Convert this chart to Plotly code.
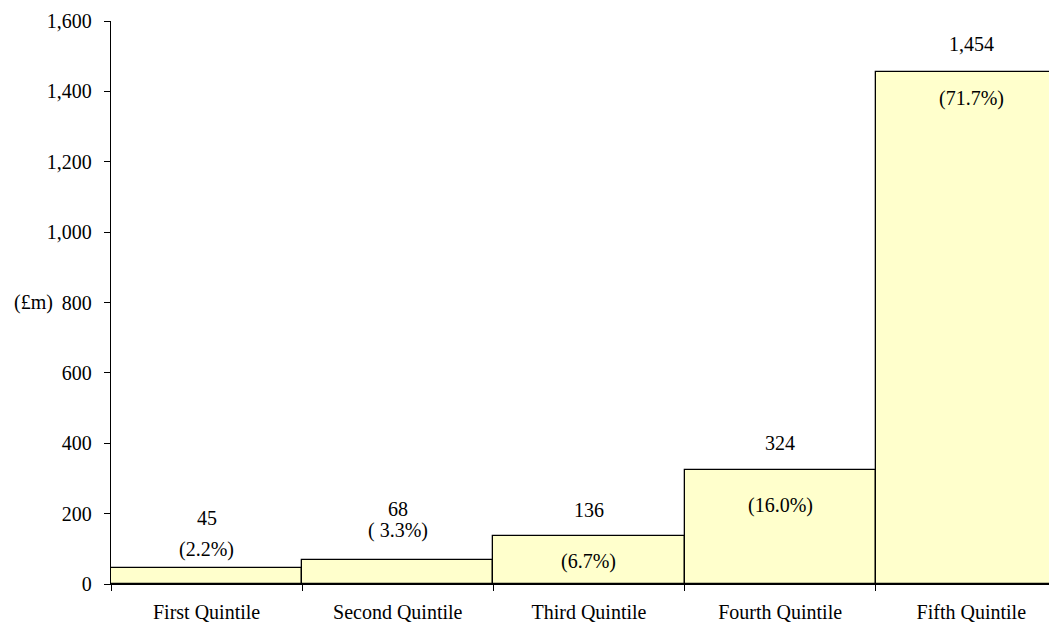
import plotly.graph_objects as go

categories = ["First Quintile", "Second Quintile", "Third Quintile", "Fourth Quintile", "Fifth Quintile"]
values = [45, 68, 136, 324, 1454]
value_labels = ["45", "68", "136", "324", "1,454"]
pct_labels = ["(2.2%)", "( 3.3%)", "(6.7%)", "(16.0%)", "(71.7%)"]
value_label_y = [189, 214, 209, 400, 1534]
pct_label_y = [97, 151, 63, 223, 1380]
y_ticks = [0, 200, 400, 600, 800, 1000, 1200, 1400, 1600]
y_tick_text = ["0", "200", "400", "600", "800", "1,000", "1,200", "1,400", "1,600"]

FONT = "Liberation Serif, Times New Roman, serif"
FS = 20

fig = go.Figure()
fig.add_trace(go.Bar(
    x=categories, y=values,
    marker=dict(color="#FFFFCC", line=dict(color="black", width=1.3)),
    width=1.0, hoverinfo="skip",
))

for c, vl, vy, pl, py in zip(categories, value_labels, value_label_y, pct_labels, pct_label_y):
    fig.add_annotation(x=c, y=vy, text=vl, showarrow=False, font=dict(size=FS, color="black", family=FONT))
    fig.add_annotation(x=c, y=py, text=pl, showarrow=False, font=dict(size=FS, color="black", family=FONT))

fig.add_annotation(xref="paper", yref="y", x=-0.1038, y=800, text="(£m)", showarrow=False,
                   xanchor="left", font=dict(size=FS, color="black", family=FONT))

fig.update_layout(
    width=1057, height=615,
    margin=dict(l=103, r=0, t=13, b=39),
    paper_bgcolor="white", plot_bgcolor="white",
    showlegend=False, bargap=0,
    font=dict(family=FONT, size=FS, color="black"),
)
fig.update_xaxes(
    type="category", range=[-0.5, 4.49], automargin=False,
    showline=True, linecolor="black", linewidth=1.3,
    ticks="outside", tickson="boundaries", ticklen=6, tickcolor="black", tickwidth=1.3,
    showgrid=False, tickfont=dict(size=FS, family=FONT), ticklabelstandoff=10,
)
fig.update_yaxes(
    range=[0, 1600], tickvals=y_ticks, ticktext=y_tick_text, automargin=False,
    showline=True, linecolor="black", linewidth=1.3,
    ticks="outside", ticklen=6, tickcolor="black", tickwidth=1.3,
    showgrid=False, zeroline=False, tickfont=dict(size=FS, family=FONT), ticklabelstandoff=8,
)

fig.write_html("out.html")
